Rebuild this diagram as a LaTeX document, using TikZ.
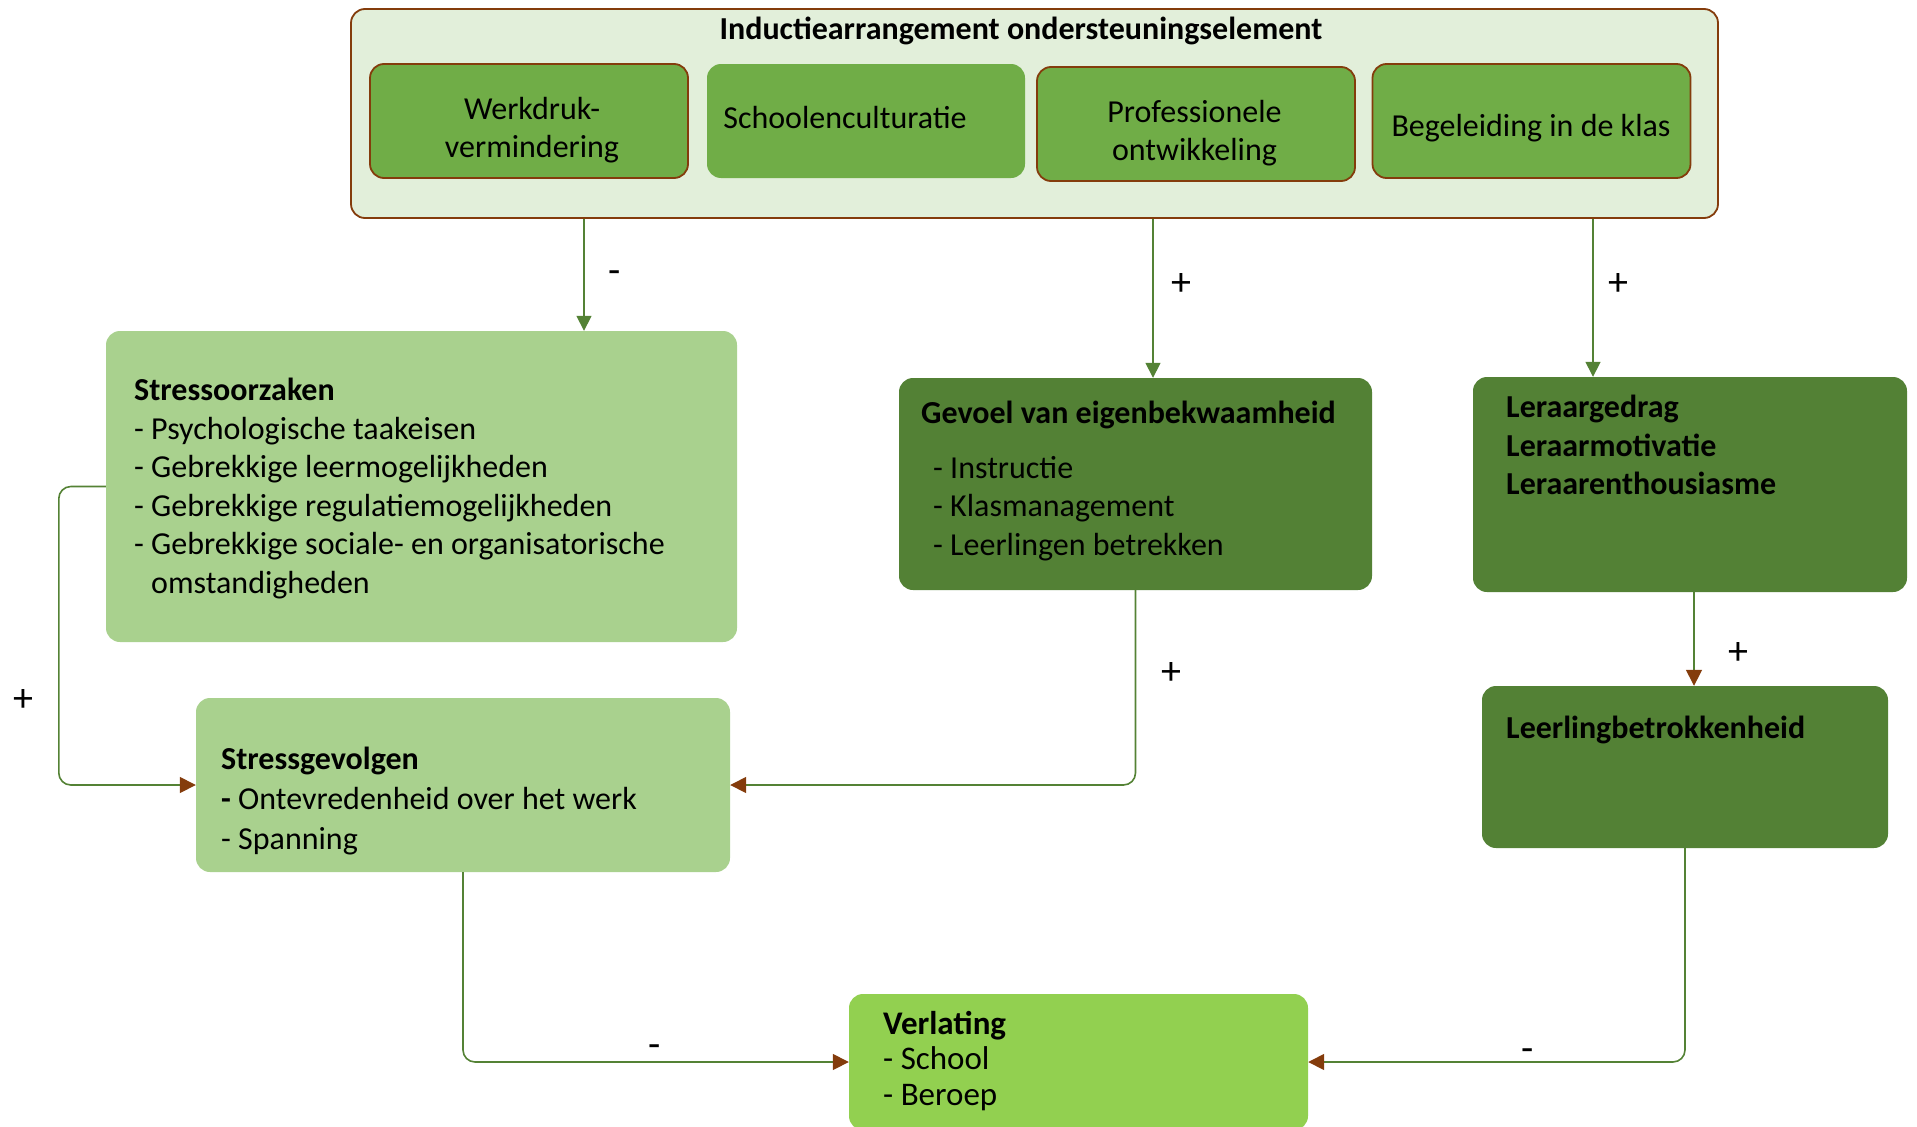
\documentclass[tikz,border=0pt]{standalone}
\usepackage{fontspec}
\setmainfont{Carlito}
\usetikzlibrary{calc,arrows.meta}
\definecolor{kader}{HTML}{E2EFDA}
\definecolor{bruin}{HTML}{843C0C}
\definecolor{midgroen}{HTML}{70AD47}
\definecolor{lichtgroen}{HTML}{A9D18E}
\definecolor{donkergroen}{HTML}{538135}
\definecolor{felgroen}{HTML}{92D050}
\definecolor{lijngroen}{HTML}{548235}
\def\groot{\fontsize{32}{38.5}\selectfont}
\tikzset{
	blok/.style={rectangle, rounded corners=14pt, inner sep=0pt},
	element/.style={blok, fill=midgroen, draw=bruin, line width=1.8pt, minimum width=318pt, minimum height=114pt},
	tekst/.style={anchor=north west, align=left, inner sep=0pt, font=\groot},
	midden/.style={align=center, inner sep=0pt, font=\groot},
	teken/.style={inner sep=0pt, font=\fontsize{40}{44}\selectfont},
	conn/.style={draw=lijngroen, line width=1.6pt, rounded corners=12pt},
	pijlG/.style={-{Triangle[length=15pt,width=15pt,color=lijngroen]}},
	pijlB/.style={-{Triangle[length=16pt,width=16pt,color=bruin]}}
}

\begin{document}
\begin{tikzpicture}[x=1pt,y=-1pt]
			%%%%% START %%%%%
			\useasboundingbox (0,0) rectangle (1917,1127);
			\clip (0,0) rectangle (1917,1127);
			
			% inductiearrangement
			\node[blok, fill=kader, draw=bruin, line width=1.8pt, minimum width=1367pt, minimum height=209pt] (ind) at (1034.5,113.5) {};
			\node[midden] (indt) at (1021,31) {\textbf{Inductiearrangement ondersteuningselement}};
			
			\node[element] (w1) at (529,121) {};
			\node[element, draw=none] (w2) at (866,121) {};
			\node[element] (w3) at (1196,124) {};
			\node[element] (w4) at (1531.5,121) {};
			\node[midden] (w1t) at (532,130) {Werkdruk-\\vermindering};
			\node[midden] (w2t) at (845,118) {Schoolenculturatie};
			\node[midden] (w3t) at (1194.5,133) {Professionele\\ontwikkeling};
			\node[midden] (w4t) at (1531,128) {Begeleiding in de klas};
			
			% blokken
			\node[blok, fill=lichtgroen, minimum width=631pt, minimum height=311pt] (so) at (421.5,486.5) {};
			\node[blok, fill=donkergroen, minimum width=473pt, minimum height=212pt] (gev) at (1135.5,484) {};
			\node[blok, fill=donkergroen, minimum width=434pt, minimum height=215pt] (ler) at (1690,484.5) {};
			\node[blok, fill=lichtgroen, minimum width=534pt, minimum height=174pt] (sg) at (463,785) {};
			\node[blok, fill=donkergroen, minimum width=406pt, minimum height=162pt] (ll) at (1685,767) {};
			\node[blok, fill=felgroen, minimum width=459pt, minimum height=136pt] (ver) at (1078.5,1062) {};
			
			\node[tekst] (sot) at (134,378) {\textbf{Stressoorzaken}\\- Psychologische taakeisen\\- Gebrekkige leermogelijkheden\\- Gebrekkige regulatiemogelijkheden\\- Gebrekkige sociale- en organisatorische\\\hphantom{- }omstandigheden};
			\node[tekst] (gevt) at (921,401) {\textbf{Gevoel van eigenbekwaamheid}\\[16pt]\hspace*{12pt}- Instructie\\\hspace*{12pt}- Klasmanagement\\\hspace*{12pt}- Leerlingen betrekken};
			\node[tekst, font=\groot\bfseries] (lert) at (1506,395) {Leraargedrag\\Leraarmotivatie\\Leraarenthousiasme};
			\node[tekst, font=\fontsize{32}{40}\selectfont] (sgt) at (221,747) {\textbf{Stressgevolgen}\\\textbf{-} Ontevredenheid over het werk\\- Spanning};
			\node[tekst] (llt) at (1506,716) {\textbf{Leerlingbetrokkenheid}};
			\node[tekst, font=\fontsize{33}{35.5}\selectfont] (vert) at (883,1011) {\textbf{Verlating}\\- School\\- Beroep};
			
			% pijlen
			\coordinate (a1) at (584,0);
			\coordinate (a2) at (1153,0);
			\coordinate (a3) at (1593,0);
			\coordinate (a4) at (1694,0);
			\draw[conn, pijlG] (ind.south -| a1) -- (so.north -| a1);
			\draw[conn, pijlG] (ind.south -| a2) -- (gev.north -| a2);
			\draw[conn, pijlG] (ind.south -| a3) -- (ler.north -| a3);
			\draw[conn, pijlB] (ler.south -| a4) -- (ll.north -| a4);
			\draw[conn, pijlB] (so.west) -- ++(-47,0) |- (sg.west);
			\draw[conn, pijlB] (gev.south) |- (sg.east);
			\draw[conn, pijlB] (sg.south) |- (ver.west);
			\draw[conn, pijlB] (ll.south) |- (ver.east);
			
			\node[teken] (m1) at (615,277) {-};
			\node[teken] (p1) at (1181,285) {+};
			\node[teken] (p2) at (1618,285) {+};
			\node[teken] (p3) at (1738,653) {+};
			\node[teken] (p4) at (23,700) {+};
			\node[teken] (p5) at (1171,673) {+};
			\node[teken] (m2) at (655,1051) {-};
			\node[teken] (m3) at (1528,1055) {-};
			
			%%%%% END %%%%%
\end{tikzpicture}
\end{document}
